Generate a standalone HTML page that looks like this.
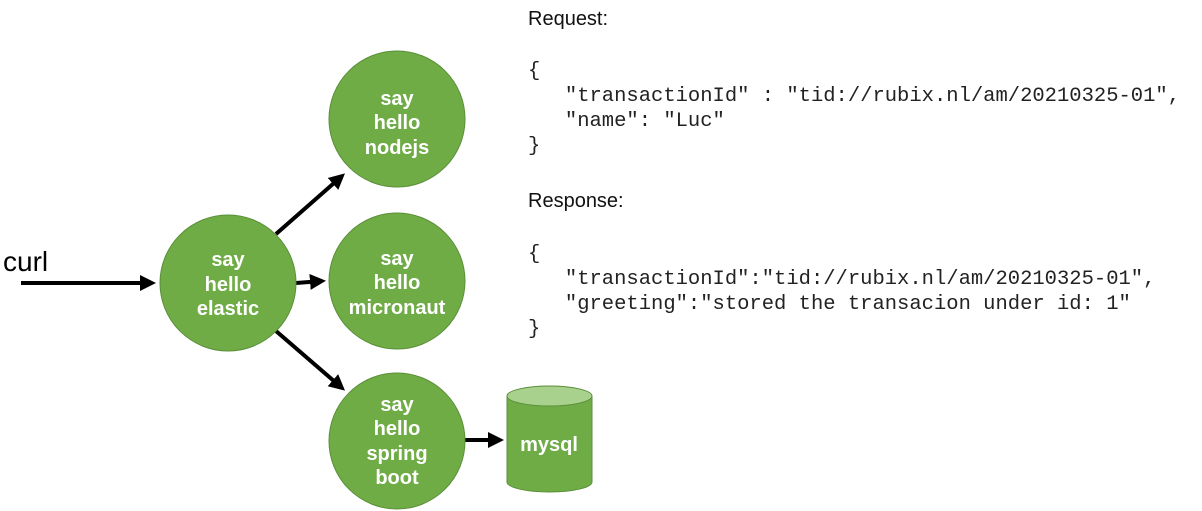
<!DOCTYPE html>
<html><head><meta charset="utf-8"><style>
html,body{margin:0;padding:0;background:#fff;}
body{width:1202px;height:511px;position:relative;overflow:hidden;}
svg{position:absolute;left:0;top:0;}
.mono{position:absolute;font-family:"Liberation Mono",monospace;font-size:20.5px;line-height:25px;white-space:pre;color:#222;}
.hd{position:absolute;font-family:"Liberation Sans",sans-serif;font-size:20px;color:#111;}
</style></head><body>
<svg width="1202" height="511" viewBox="0 0 1202 511">
<defs><marker id="a" markerWidth="4" markerHeight="4" refX="3" refY="2" orient="auto"><path d="M0,0 L4,2 L0,4 z" fill="#000"/></marker></defs>
<g stroke="#000" stroke-width="4" fill="none" marker-end="url(#a)">
<line x1="21" y1="283" x2="152" y2="283"/>
<line x1="276" y1="234" x2="342" y2="176"/>
<line x1="296" y1="283" x2="322" y2="281"/>
<line x1="276" y1="331" x2="342" y2="388"/>
<line x1="465" y1="440" x2="500" y2="440"/>
</g>
<g fill="#6fac46" stroke="#5a8f38" stroke-width="1">
<circle cx="228" cy="283" r="68"/>
<circle cx="397" cy="119" r="68"/>
<circle cx="397" cy="281" r="68"/>
<circle cx="397" cy="441" r="68"/>
<path d="M507,396 L507,482 A42.5,10 0 0 0 592,482 L592,396"/>
<ellipse cx="549.5" cy="396" rx="42.5" ry="10" fill="#a9d18e"/>
</g>
<g font-family="Liberation Sans, sans-serif" font-size="20" font-weight="bold" fill="#fff" text-anchor="middle">
<text x="228" y="266">say</text><text x="228" y="291">hello</text><text x="228" y="315">elastic</text>
<text x="397" y="105">say</text><text x="397" y="129">hello</text><text x="397" y="154">nodejs</text>
<text x="397" y="265">say</text><text x="397" y="289">hello</text><text x="397" y="314">micronaut</text>
<text x="397" y="411">say</text><text x="397" y="435">hello</text><text x="397" y="460">spring</text><text x="397" y="484">boot</text>
<text x="549" y="451">mysql</text>
</g>
<text x="3" y="271" font-family="Liberation Sans, sans-serif" font-size="28" fill="#000">curl</text>
</svg>
<div class="hd" style="left:528px;top:8px;">Request:</div>
<div class="mono" style="left:528px;top:59px;">{
   "transactionId" : "tid://rubix.nl/am/20210325-01",
   "name": "Luc"
}</div>
<div class="hd" style="left:528px;top:190px;">Response:</div>
<div class="mono" style="left:528px;top:242px;">{
   "transactionId":"tid://rubix.nl/am/20210325-01",
   "greeting":"stored the transacion under id: 1"
}</div>
</body></html>
